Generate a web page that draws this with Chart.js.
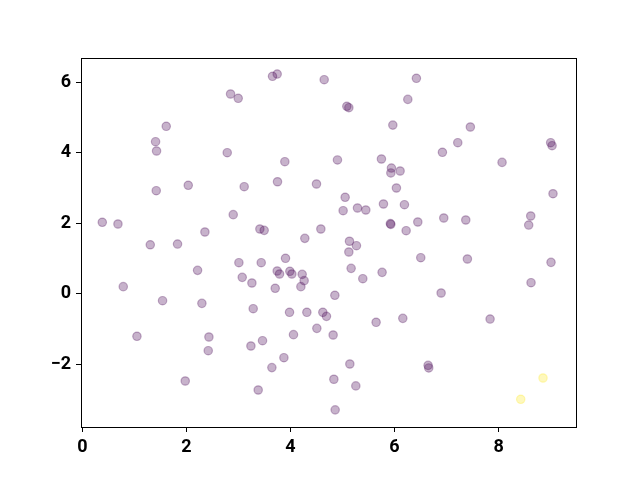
<!DOCTYPE html>
<html>
<head>
<meta charset="utf-8">
<script src="https://cdn.jsdelivr.net/npm/chart.js@4/dist/chart.umd.min.js"></script>
<style>
html,body{margin:0;padding:0;background:#fff;}
#c{display:block;}
</style>
</head>
<body>
<canvas id="c" width="640" height="480"></canvas>
<script>
const xValues = [3.655,3.745,4.648,2.849,2.996,1.613,1.408,1.427,2.785,3.892,1.421,2.036,3.111,3.751,4.50,0.384,0.685,2.90,2.356,3.412,3.495,4.276,4.584,1.306,1.83,
6.42,6.255,5.083,5.122,5.967,7.457,7.215,6.92,9.0,9.027,4.903,5.748,5.94,5.929,6.107,8.066,6.036,9.045,5.051,5.012,5.288,5.448,5.787,6.19,5.92,5.929,6.223,6.447,6.946,7.369,8.617,8.578,5.134,5.268,5.122,
6.504,7.40,9.007,5.166,5.39,5.761,8.623,4.853,6.895,4.622,4.692,5.646,6.159,7.836,4.82,5.141,6.645,6.657,4.834,5.256,4.859,8.853,8.425,
3.009,3.438,3.905,2.215,3.073,3.745,3.79,3.988,4.027,4.225,4.263,4.20,3.259,3.707,0.787,1.542,2.298,3.284,3.982,4.315,4.507,4.058,1.05,2.433,2.42,3.24,3.463,3.874,3.643,1.978,3.38];
const yValues = [6.176,6.24,6.08,5.673,5.551,4.755,4.318,4.054,4.006,3.75,2.926,3.08,3.04,3.18,3.116,2.028,1.98,2.245,1.753,1.838,1.80,1.573,1.838,1.39,1.41,
6.12,5.52,5.324,5.284,4.79,4.736,4.29,4.017,4.29,4.205,3.80,3.827,3.57,3.43,3.486,3.73,3.003,2.84,2.738,2.358,2.435,2.378,2.548,2.529,1.99,1.97,1.79,2.037,2.15,2.094,2.207,1.95,1.49,1.364,1.185,
1.023,0.986,0.891,0.72,0.426,0.607,0.313,-0.046,0.02,-0.528,-0.643,-0.813,-0.70,-0.72,-1.173,-1.997,-2.035,-2.11,-2.43,-2.62,-3.30,-2.395,-3.0,
0.881,0.881,1.005,0.664,0.465,0.645,0.56,0.636,0.56,0.55,0.37,0.20,0.304,0.153,0.20,-0.199,-0.274,-0.426,-0.529,-0.529,-0.984,-1.164,-1.21,-1.23,-1.62,-1.486,-1.335,-1.818,-2.10,-2.48,-2.736];
// colour value per point (0 = low end of viridis, 1 = high end)
const cValues = xValues.map((_, i) => (i === 81 || i === 82) ? 1 : 0);
const xTickValues = [0, 2, 4, 6, 8];
const xTickLabels = ["0", "2", "4", "6", "8"];
const yTickValues = [-2, 0, 2, 4, 6];
const yTickLabels = ["\u22122", "0", "2", "4", "6"];

const lowColor = 'rgba(68,1,84,0.3)';
const highColor = 'rgba(253,231,37,0.3)';
const pointColors = cValues.map(c => c > 0.5 ? highColor : lowColor);
const points = xValues.map((x, i) => ({x: x, y: yValues[i]}));

const spines = {
  id: 'spines',
  afterDraw(chart) {
    const a = chart.chartArea, ctx = chart.ctx;
    ctx.save();
    ctx.strokeStyle = '#000';
    ctx.lineWidth = 1;
    ctx.strokeRect(Math.round(a.left) + 0.5, Math.round(a.top) + 0.5,
                   Math.round(a.right - a.left), Math.round(a.bottom - a.top));
    ctx.restore();
  }
};

const tickFont = {family: 'Roboto', size: 18, weight: 'bold'};

new Chart(document.getElementById('c'), {
  type: 'scatter',
  data: {
    datasets: [{
      data: points,
      pointRadius: 4.2,
      pointHoverRadius: 4.2,
      pointBorderWidth: 1.2,
      pointBackgroundColor: pointColors,
      pointBorderColor: pointColors
    }]
  },
  options: {
    responsive: false,
    animation: false,
    devicePixelRatio: 1,
    layout: {padding: {left: 0, right: 64, top: 58, bottom: 0}},
    plugins: {legend: {display: false}, tooltip: {enabled: false}},
    scales: {
      x: {
        type: 'linear',
        min: -0.025, max: 9.487,
        afterBuildTicks(s) { s.ticks = xTickValues.map(v => ({value: v})); },
        afterFit(s) { s.height = 53; },
        grid: {drawOnChartArea: false, drawTicks: true, tickLength: 5, tickColor: '#000', tickWidth: 1},
        border: {display: true, color: '#000', width: 1},
        ticks: {
          color: '#000', font: tickFont, padding: 5, maxRotation: 0,
          callback(v) { const i = xTickValues.indexOf(v); return i >= 0 ? xTickLabels[i] : ''; }
        }
      },
      y: {
        type: 'linear',
        min: -3.787, max: 6.696,
        afterBuildTicks(s) { s.ticks = yTickValues.map(v => ({value: v})); },
        afterFit(s) { s.width = 81; },
        grid: {drawOnChartArea: false, drawTicks: true, tickLength: 5, tickColor: '#000', tickWidth: 1},
        border: {display: true, color: '#000', width: 1},
        ticks: {
          color: '#000', font: tickFont, padding: 5,
          callback(v) { const i = yTickValues.indexOf(v); return i >= 0 ? yTickLabels[i] : ''; }
        }
      }
    }
  },
  plugins: [spines]
});
</script>
</body>
</html>
